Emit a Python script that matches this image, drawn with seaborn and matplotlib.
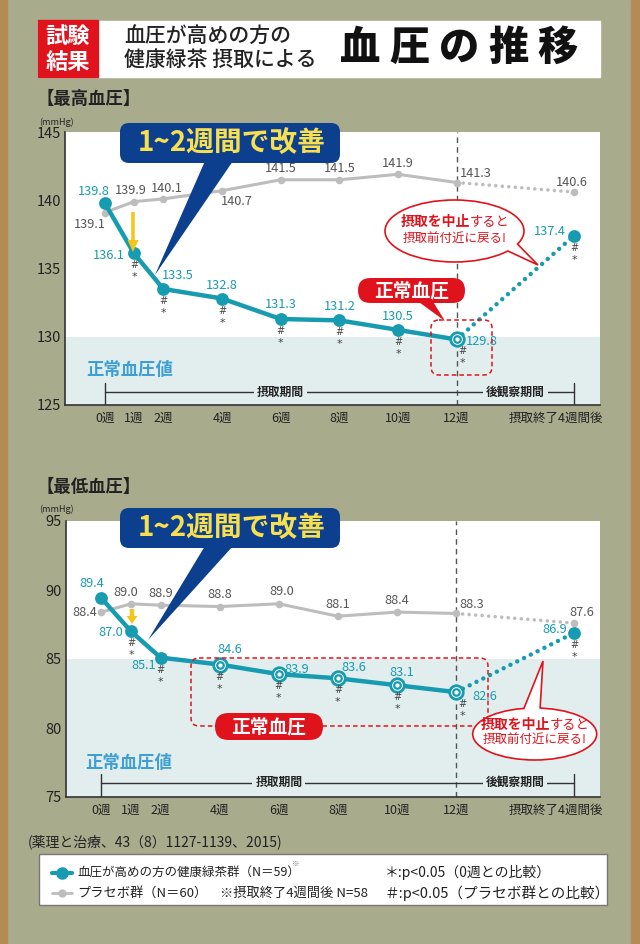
import math
import matplotlib
matplotlib.use('Agg')
import matplotlib.pyplot as plt
from matplotlib.transforms import ScaledTranslation
import seaborn as sns
import pandas as pd
from matplotlib.patches import FancyBboxPatch, Polygon, Rectangle, Ellipse, FancyArrow

# ---------------- data ----------------
weeks = [0, 1, 2, 4, 6, 8, 10, 12]
post_week = 16
tick_positions = [0, 1, 2, 4, 6, 8, 10, 12, 16]
tick_labels = ['0週', '1週', '2週', '4週', '6週', '8週', '10週', '12週', '摂取終了4週間後']

sys_tea = [139.8, 136.1, 133.5, 132.8, 131.3, 131.2, 130.5, 129.8]
sys_tea_post = 137.4
sys_placebo = [139.1, 139.9, 140.1, 140.7, 141.5, 141.5, 141.9, 141.3]
sys_placebo_post = 140.6

dia_tea = [89.4, 87.0, 85.1, 84.6, 83.9, 83.6, 83.1, 82.6]
dia_tea_post = 86.9
dia_placebo = [88.4, 89.0, 88.9, 88.8, 89.0, 88.1, 88.4, 88.3]
dia_placebo_post = 87.6

sys_yticks = [125, 130, 135, 140, 145]
dia_yticks = [75, 80, 85, 90, 95]

# ---------------- style ----------------
sns.set_theme(style='white')
plt.rcParams['font.family'] = ['Noto Sans CJK JP', 'DejaVu Sans']
plt.rcParams['axes.unicode_minus'] = False

BG = '#a9ab8d'
BROWN = '#b38b55'
TEAL = '#179bb0'
GRAY = '#bdbdbd'
GRAY_TXT = '#555555'
ZONE = '#e2eeee'
NAVY = '#0c3f8e'
YELLOW = '#f8df4f'
ARROW_Y = '#f5c51c'
RED = '#e0131d'
NORMAL_BLUE = '#3d9fd6'
DARK = '#222222'

W, H = 640, 944
fig = plt.figure(figsize=(6.4, 9.44), dpi=100)


def rect(x0, y0, x1, y1):
    return [x0 / W, 1 - y1 / H, (x1 - x0) / W, (y1 - y0) / H]


bg = fig.add_axes([0, 0, 1, 1], zorder=0)
bg.set_xlim(0, W)
bg.set_ylim(H, 0)
bg.axis('off')
bg.add_patch(Rectangle((0, 0), W, H, color=BG))
bg.add_patch(Rectangle((0, 0), 7, H, color=BROWN))
bg.add_patch(Rectangle((631, 0), 9, H, color=BROWN))

# header
bg.add_patch(Rectangle((38, 21), 562, 56, color='white'))
bg.add_patch(Rectangle((38, 20), 60, 57, color=RED))
bg.text(68, 36, '試験', color='white', fontsize=16, fontweight='bold', ha='center', va='center')
bg.text(68, 62, '結果', color='white', fontsize=16, fontweight='bold', ha='center', va='center')
bg.text(124, 37, '血圧が高めの方の', color=DARK, fontsize=15, fontweight='medium', ha='left', va='center')
bg.text(124, 60, '健康緑茶 摂取による', color=DARK, fontsize=15, fontweight='medium', ha='left', va='center')
for i, ch in enumerate('血圧の推移'):
    bg.text(360 + i * 49.5, 48, ch, color='#111111', fontsize=29, fontweight='heavy',
            ha='center', va='center')

# section titles
bg.text(36, 99, '【最高血圧】', color=DARK, fontsize=12.5, fontweight='bold', ha='left', va='center')
bg.text(36, 487, '【最低血圧】', color=DARK, fontsize=12.5, fontweight='bold', ha='left', va='center')
bg.text(39, 122, '(mmHg)', color=DARK, fontsize=6.5, ha='left', va='center')
bg.text(39, 509, '(mmHg)', color=DARK, fontsize=6.5, ha='left', va='center')


def draw_chart(ax, xlim, tea, tea_post, pla, pla_post, ylim, yticks, normal, ring_weeks,
               tea_off, pla_off, sig_dx, bracket_y, bracket_top):
    ax.set_facecolor('white')
    ax.set_xlim(*xlim)
    ax.set_ylim(*ylim)
    ax.axhspan(ylim[0], normal, color=ZONE, zorder=0, lw=0)
    ax.axvline(12, color='#555555', lw=1, ls=(0, (4, 3)), zorder=1)

    df_p = pd.DataFrame({'week': weeks, 'value': pla})
    df_pp = pd.DataFrame({'week': [weeks[-1], post_week], 'value': [pla[-1], pla_post]})
    df_t = pd.DataFrame({'week': weeks, 'value': tea})
    df_tp = pd.DataFrame({'week': [weeks[-1], post_week], 'value': [tea[-1], tea_post]})

    sns.lineplot(data=df_p, x='week', y='value', color=GRAY, lw=2.2, ax=ax, zorder=2)
    sns.lineplot(data=df_pp, x='week', y='value', color=GRAY, lw=2.6, ax=ax, zorder=2)
    ln = ax.lines[-1]
    ln.set_linestyle((0, (0.01, 1.8)))
    ln.set_dash_capstyle('round')
    sns.scatterplot(x=weeks + [post_week], y=pla + [pla_post], s=30, color=GRAY,
                    edgecolor=GRAY, linewidth=0, ax=ax, zorder=3)

    sns.lineplot(data=df_t, x='week', y='value', color=TEAL, lw=3.2, ax=ax, zorder=4)
    sns.lineplot(data=df_tp, x='week', y='value', color=TEAL, lw=3.2, ax=ax, zorder=4)
    ln = ax.lines[-1]
    ln.set_linestyle((0, (0.01, 1.7)))
    ln.set_dash_capstyle('round')

    fx = [w for w in weeks if w not in ring_weeks] + [post_week]
    fy = [v for w, v in zip(weeks, tea) if w not in ring_weeks] + [tea_post]
    sns.scatterplot(x=fx, y=fy, s=85, color=TEAL, edgecolor=TEAL, linewidth=0, ax=ax, zorder=5)
    rx = [w for w in weeks if w in ring_weeks]
    ry = [v for w, v in zip(weeks, tea) if w in ring_weeks]
    if rx:
        sns.scatterplot(x=rx, y=ry, s=95, color='white', edgecolor=TEAL, linewidth=2.0, ax=ax, zorder=5)
        sns.scatterplot(x=rx, y=ry, s=22, color='white', edgecolor=TEAL, linewidth=1.6, ax=ax, zorder=6)

    xs = weeks + [post_week]
    tv = tea + [tea_post]
    pv = pla + [pla_post]
    for x, v, (dx, dy, ha) in zip(xs, tv, tea_off):
        ax.annotate(f'{v:.1f}', (x, v), xytext=(dx, dy), textcoords='offset pixels',
                    ha=ha, va='center', fontsize=9.2, color=TEAL, zorder=7)
    for x, v, (dx, dy, ha) in zip(xs, pv, pla_off):
        ax.annotate(f'{v:.1f}', (x, v), xytext=(dx, dy), textcoords='offset pixels',
                    ha=ha, va='center', fontsize=9.2, color=GRAY_TXT, zorder=7)
    for x, v, sdx in zip(xs[1:], tv[1:], sig_dx):
        ax.annotate('#', (x, v), xytext=(sdx, -12), textcoords='offset pixels',
                    ha='center', va='center', fontsize=7, color='#444444', zorder=7,
                    family='DejaVu Sans')
        ax.annotate('*', (x, v), xytext=(sdx, -24), textcoords='offset pixels',
                    ha='center', va='center', fontsize=8, color='#444444', zorder=7,
                    family='DejaVu Sans')

    # bracket
    ax.plot([0, 16], [bracket_y, bracket_y], color='#333333', lw=1, zorder=2)
    ax.plot([0, 0], [ylim[0], bracket_top], color='#333333', lw=1, zorder=2)
    ax.plot([16, 16], [ylim[0], bracket_top], color='#333333', lw=1, zorder=2)
    ax.text(6, bracket_y, '摂取期間', ha='center', va='center', fontsize=8.5, color=DARK,
            fontweight='bold', bbox=dict(fc=ZONE, ec='none', pad=2), zorder=3)
    ax.text(14, bracket_y, '後観察期間', ha='center', va='center', fontsize=8.5, color=DARK,
            fontweight='bold', bbox=dict(fc=ZONE, ec='none', pad=2), zorder=3)

    ax.set_xticks(tick_positions)
    ax.set_xticklabels(tick_labels, fontsize=9, color=DARK)
    ax.set_yticks(yticks)
    ax.set_yticklabels([str(t) for t in yticks], fontsize=10.5, color=DARK)
    ax.tick_params(axis='both', direction='in', length=4, width=1, color='#333333')
    ax.tick_params(axis='x', pad=5)
    ax.tick_params(axis='y', pad=3)
    lab = ax.get_xticklabels()[-1]
    lab.set_transform(lab.get_transform() + ScaledTranslation(-0.18, 0, fig.dpi_scale_trans))
    ax.set_xlabel('')
    ax.set_ylabel('')
    for s in ['top', 'right']:
        ax.spines[s].set_visible(False)
    for s in ['left', 'bottom']:
        ax.spines[s].set_color('#333333')
        ax.spines[s].set_linewidth(1.2)


# ---------- systolic chart ----------
ax1 = fig.add_axes(rect(65, 132, 600, 405), zorder=1)
sys_tea_off = [(-11, 11, 'center'), (-9, -2, 'right'), (14, 13, 'center'), (0, 13, 'center'),
               (0, 15, 'center'), (0, 14, 'center'), (0, 13, 'center'), (9, -2, 'left'),
               (-8, 4, 'right')]
sys_pla_off = [(1, -12, 'right'), (-3, 11, 'center'), (3, 10, 'center'), (15, -11, 'center'),
               (0, 11, 'center'), (0, 11, 'center'), (0, 11, 'center'), (3, 9, 'left'),
               (-2, 10, 'center')]
draw_chart(ax1, (-1.354, 16.887), sys_tea, sys_tea_post, sys_placebo, sys_placebo_post,
           (125, 145), sys_yticks, 130, [12], sys_tea_off, sys_pla_off,
           [0, 0, 0, 0, 0, 0, 6, 0], 125.95, 126.6)

# ---------- diastolic chart ----------
ax2 = fig.add_axes(rect(66, 521, 600, 797), zorder=1)
dia_tea_off = [(-10, 15, 'center'), (-8, -1, 'right'), (-5, -8, 'right'), (10, 15, 'center'),
               (6, 5, 'left'), (3, 11, 'left'), (5, 13, 'center'), (16, -4, 'left'),
               (-7, 3, 'right')]
dia_pla_off = [(-4, 0, 'right'), (-5, 11, 'center'), (0, 12, 'center'), (0, 12, 'center'),
               (3, 12, 'center'), (0, 12, 'center'), (0, 12, 'center'), (3, 9, 'left'),
               (7, 11, 'center')]
draw_chart(ax2, (-1.2, 16.87), dia_tea, dia_tea_post, dia_placebo, dia_placebo_post,
           (75, 95), dia_yticks, 85, [4, 6, 8, 10, 12], dia_tea_off, dia_pla_off,
           [0, 0, 0, 0, 0, 0, 6, 0], 76.04, 76.7)

# ---------------- overlay annotations ----------------
ov = fig.add_axes([0, 0, 1, 1], zorder=5)
ov.set_xlim(0, W)
ov.set_ylim(H, 0)
ov.axis('off')
ov.patch.set_alpha(0)


def blue_callout(y0, tip):
    ov.add_patch(Polygon([(205, y0 + 38), (233, y0 + 38), tip], closed=True, fc=NAVY, ec='none'))
    ov.add_patch(FancyBboxPatch((120, y0), 220, 40, boxstyle='round,pad=0,rounding_size=9',
                                fc=NAVY, ec='none'))
    ov.text(232, y0 + 20, '1~2週間で改善', color=YELLOW, fontsize=20, fontweight='bold',
            ha='center', va='center')


blue_callout(123, (155, 275))
blue_callout(508, (148, 640))


def red_pill(x0, y0, w, h, tail=None):
    if tail is not None:
        ov.add_patch(Polygon(tail, closed=True, fc=RED, ec='none'))
    ov.add_patch(FancyBboxPatch((x0, y0), w, h, boxstyle=f'round,pad=0,rounding_size={h/2}',
                                fc=RED, ec='none'))
    ov.text(x0 + w / 2, y0 + h / 2 + 0.5, '正常血圧', color='white', fontsize=13.5,
            fontweight='bold', ha='center', va='center')


def dashed_box(x0, y0, w, h):
    ov.add_patch(FancyBboxPatch((x0, y0), w, h, boxstyle='round,pad=0,rounding_size=8',
                                fc='none', ec=RED, lw=1.1, ls=(0, (3, 2))))


dashed_box(431, 320, 61, 55)
red_pill(358, 278, 107, 25, tail=[(416, 300), (432, 300), (445, 321)])
dashed_box(191, 658, 297, 68)
red_pill(215, 713, 108, 27)


def speech(cx, cy, w, h, t1, t2, tip, l1y, l2y, split):
    a, b = w / 2, h / 2
    ov.add_patch(Ellipse((cx, cy), w, h, fc='white', ec=RED, lw=1.2))
    p1 = (cx + a * math.cos(math.radians(t1)), cy + b * math.sin(math.radians(t1)))
    p2 = (cx + a * math.cos(math.radians(t2)), cy + b * math.sin(math.radians(t2)))
    q1 = (cx + 0.9 * a * math.cos(math.radians(t1)), cy + 0.9 * b * math.sin(math.radians(t1)))
    q2 = (cx + 0.9 * a * math.cos(math.radians(t2)), cy + 0.9 * b * math.sin(math.radians(t2)))
    ov.add_patch(Polygon([q1, p1, tip, p2, q2], closed=True, fc='white', ec='none'))
    ov.plot([p1[0], tip[0], p2[0]], [p1[1], tip[1], p2[1]], color=RED, lw=1.2,
            solid_joinstyle='miter')
    ov.text(split, l1y, '摂取を中止', color=RED, fontsize=10, fontweight='bold', ha='right', va='center')
    ov.text(split, l1y, 'すると', color=RED, fontsize=9.5, ha='left', va='center')
    ov.text(cx, l2y, '摂取前付近に戻る!', color=RED, fontsize=9, ha='center', va='center')


speech(454.5, 231, 139, 62, 40, 25, (538, 265), 222, 239, 470)
speech(534.7, 734, 124, 52, -100, -85, (543, 661), 725, 740, 550)

# yellow arrows
ov.add_patch(FancyArrow(133, 212, 0, 40, width=3.5, head_width=11, head_length=12,
                        length_includes_head=True, color=ARROW_Y, lw=0))
ov.add_patch(FancyArrow(132, 609, 0, 15, width=4.5, head_width=11, head_length=8,
                        length_includes_head=True, color=ARROW_Y, lw=0))

# normal value label
ov.text(86, 370, '正常血圧値', color=NORMAL_BLUE, fontsize=12.5, fontweight='bold', ha='left', va='center')
ov.text(85, 763, '正常血圧値', color=NORMAL_BLUE, fontsize=12.5, fontweight='bold', ha='left', va='center')

# citation
bg.text(28, 842, '(薬理と治療、43（8）1127-1139、2015)', color=DARK, fontsize=10, ha='left', va='center')

# legend
bg.add_patch(Rectangle((39, 854), 568, 51, fc='white', ec='#777777', lw=1))
bg.plot([52, 72], [873, 873], color=TEAL, lw=3)
bg.plot([62], [873], marker='o', ms=8, color=TEAL)
bg.plot([52, 72], [893, 893], color=GRAY, lw=2)
bg.plot([62], [893], marker='o', ms=5, color=GRAY)
bg.text(77, 873, '血圧が高めの方の健康緑茶群（N＝59）', color=DARK, fontsize=9, ha='left', va='center')
bg.text(292, 864, '※', color='#777777', fontsize=5.5, ha='left', va='center')
bg.text(77, 893, 'プラセボ群（N＝60）', color=DARK, fontsize=9.5, ha='left', va='center')
bg.text(220, 893, '※摂取終了4週間後 N=58', color=DARK, fontsize=9.5, ha='left', va='center')
bg.text(385, 873, '＊:p<0.05（0週との比較）', color=DARK, fontsize=10, ha='left', va='center')
bg.text(385, 893, '＃:p<0.05（プラセボ群との比較）', color=DARK, fontsize=10.5, ha='left', va='center')

fig.savefig('out.png', dpi=100)
